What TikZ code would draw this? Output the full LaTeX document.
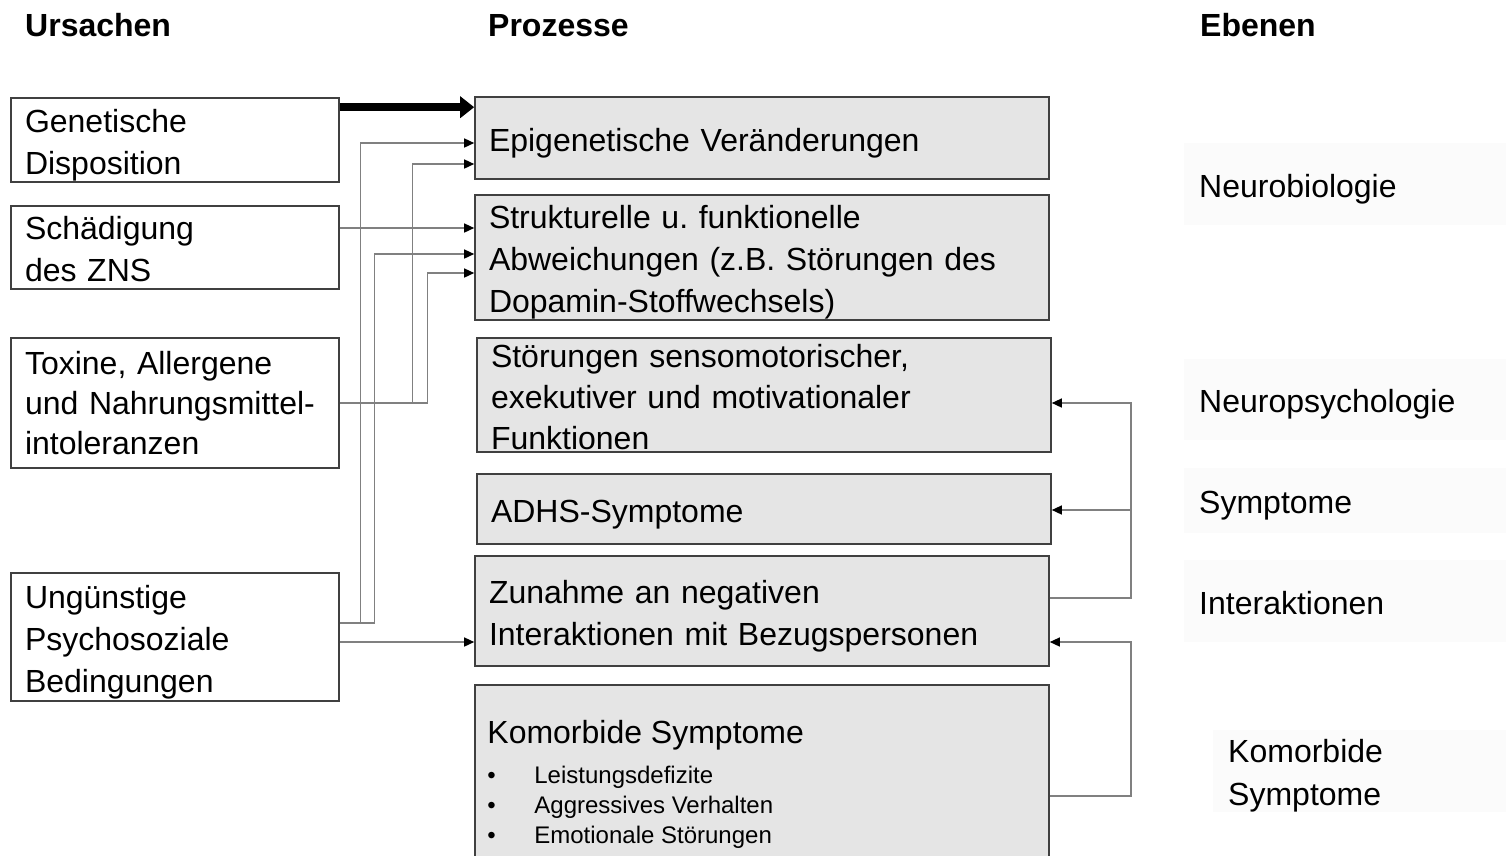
\documentclass[tikz,border=0pt]{standalone}
\usepackage{fontspec}
\setmainfont{Liberation Sans}
\usetikzlibrary{arrows.meta,calc,positioning}
\frenchspacing
\newcommand{\bul}{\makebox[47pt][l]{\textbullet}}
\tikzset{
  firstline/.store in = \flht, firstline=33pt,
  cause/.style = {draw=black!75, line width=1.6pt, fill=white, minimum width=328pt,
                  text width=300pt, inner xsep=13pt, inner ysep=0pt, align=left,
                  font=\fontsize{32}{42}\selectfont,
                  execute at begin node={\rule{0pt}{\flht}}},
  proc/.style  = {cause, fill=black!10, minimum width=574pt, text width=546pt},
  level/.style = {fill=black!1.5, anchor=west, minimum width=330pt, text width=300pt,
                  inner xsep=14pt, inner ysep=0pt, align=left,
                  font=\fontsize{32}{43}\selectfont,
                  execute at begin node={\rule{0pt}{\flht}}},
  head/.style  = {anchor=base west, inner sep=0pt, font=\fontsize{32}{38}\selectfont\bfseries},
  item/.style  = {anchor=base west, inner sep=0pt, font=\fontsize{24}{30}\selectfont},
  link/.style  = {draw=black!50, line width=1.4pt, -{Triangle[length=10pt,width=9pt,color=black]}},
  bigarrow/.style = {line width=8pt, -{Triangle[length=14pt,width=21pt]}},
}
\begin{document}
\begin{tikzpicture}[x=1pt,y=-1pt]
  \useasboundingbox (0,0) rectangle (1506,855);
  \node[head] (hcause) at (25,36) {Ursachen};
  \node[head] (hproc)  at (488,36) {Prozesse};
  \node[head] (hlevel) at (1200,36) {Ebenen};
  % Ursachen
  \node[cause, minimum height=84pt]  (gen) at (175,140)   {Genetische\\Disposition};
  \node[cause, minimum height=83pt, firstline=26pt] (sch) at (175,247.5) {Schädigung\\des ZNS};
  \node[cause, minimum height=130pt, firstline=23pt, font=\fontsize{32}{40}\selectfont]
    (tox) at (175,403) {Toxine, Allergene\\und Nahrungsmittel-\\intoleranzen};
  \node[cause, minimum height=128pt] (ung) at (175,637)   {Ungünstige\\Psychosoziale\\Bedingungen};
  % Prozesse
  \node[proc, minimum height=82pt]  (epi)  at (762,138)   {Epigenetische Veränderungen};
  \node[proc, minimum height=125pt] (str)  at (762,257.5) {Strukturelle u. funktionelle\\Abweichungen (z.B. Störungen des\\Dopamin-Stoffwechsels)};
  \node[proc, minimum height=114pt, firstline=27pt, font=\fontsize{32}{41}\selectfont]
    (stoe) at (764,395) {Störungen sensomotorischer,\\exekutiver und motivationaler\\Funktionen};
  \node[proc, minimum height=70pt]  (adhs) at (764,509)   {ADHS-Symptome};
  \node[proc, minimum height=110pt] (zun)  at (762,611)   {Zunahme an negativen\\Interaktionen mit Bezugspersonen};
  \node[proc, minimum height=222pt, anchor=north, firstline=0pt] (kom) at (762,684) {};
  \node[anchor=base west, inner sep=0pt, font=\fontsize{32}{42}\selectfont] (komtitle)
    at ($(kom.north west)+(13,59)$) {Komorbide Symptome};
  \foreach \t [count=\i] in {Leistungsdefizite, Aggressives Verhalten, Emotionale Störungen}
    \node[item] (it\i) at ($(kom.north west)+(13,69+30*\i)$) {\bul\t};
  % Ebenen
  \node[level, minimum height=82pt] (nbio) at (1184,184)   {Neurobiologie};
  \node[level, minimum height=81pt] (npsy) at (1184,399.5) {Neuropsychologie};
  \node[level, minimum height=65pt] (symp) at (1184,500.5) {Symptome};
  \node[level, minimum height=82pt, firstline=27pt] (inter) at (1184,601) {Interaktionen};
  \node[level, minimum height=82pt] (komo) at (1213,771)   {Komorbide\\Symptome};
  % Verbindungen
  \draw[bigarrow] ($(gen.north east)+(0,10)$) -- ($(epi.north west)+(0,11)$);
  \draw[link] ($(ung.east)+(0,-14)$) -| ($(epi.west)+(-114,5)$) -- ($(epi.west)+(0,5)$);
  \draw[link] (tox.east) -| ($(epi.west)+(-62,26)$) -- ($(epi.west)+(0,26)$);
  \draw[link] ($(sch.east)+(0,-19.5)$) -- ($(str.west)+(0,-29.5)$);
  \draw[link] ($(ung.east)+(0,-14)$) -| ($(str.west)+(-100,-3.5)$) -- ($(str.west)+(0,-3.5)$);
  \draw[link] (tox.east) -| ($(str.west)+(-47,15.5)$) -- ($(str.west)+(0,15.5)$);
  \draw[link] ($(ung.east)+(0,5)$) -- ($(zun.west)+(0,31)$);
  \draw[link] ($(zun.east)+(0,-13)$) -| ($(stoe.east)+(79,8)$) -- ($(stoe.east)+(0,8)$);
  \draw[link] ($(adhs.east)+(79,1)$) -- ($(adhs.east)+(0,1)$);
  \draw[link] (kom.east) -| ($(zun.east)+(81,31)$) -- ($(zun.east)+(0,31)$);
\end{tikzpicture}
\end{document}
